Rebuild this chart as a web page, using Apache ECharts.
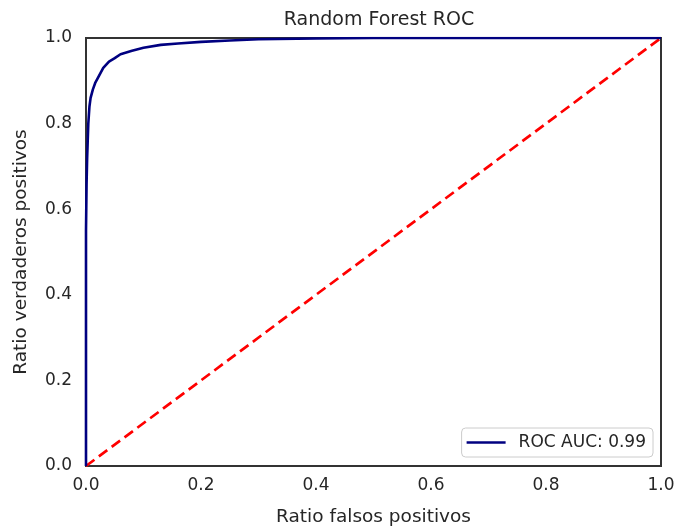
<!DOCTYPE html>
<html><head><meta charset="utf-8">
<script src="https://cdn.jsdelivr.net/npm/echarts@6/dist/echarts.min.js"></script>
<style>html,body{margin:0;padding:0;background:#fff}#c{width:691px;height:529px}</style>
</head><body><div id="c"></div>
<script>
const fpr = [0, 0, 0.001, 0.002, 0.004, 0.006, 0.008, 0.012, 0.016, 0.02, 0.03, 0.04, 0.05, 0.06, 0.08, 0.1, 0.13, 0.16, 0.2, 0.25, 0.3, 0.4, 0.5, 1.0];
const tpr = [0, 0.55, 0.66, 0.72, 0.8, 0.84, 0.86, 0.88, 0.895, 0.905, 0.93, 0.945, 0.953, 0.962, 0.97, 0.977, 0.984, 0.987, 0.991, 0.994, 0.997, 0.999, 1.0, 1.0];
const chanceX = [0, 1];
const chanceY = [0, 1];
const titleText = 'Random Forest ROC';
const xName = 'Ratio falsos positivos';
const yName = 'Ratio verdaderos positivos';
const legendName = 'ROC AUC: 0.99';

const font = 'DejaVu Sans';
const txt = '#262626';
const chart = echarts.init(document.getElementById('c'), null, {renderer: 'canvas'});
const axisCommon = {
  type: 'value', min: 0, max: 1, interval: 0.2,
  axisLine: {show: false}, axisTick: {show: false}, splitLine: {show: false},
  axisLabel: {color: txt, fontFamily: font, fontSize: 17, formatter: v => v.toFixed(1)},
  nameLocation: 'middle',
  nameTextStyle: {color: txt, fontFamily: font, fontSize: 18.5}
};
chart.setOption({
  backgroundColor: '#fff',
  animation: false,
  title: {text: titleText, left: 374, top: 6, textAlign: 'center',
    textStyle: {color: txt, fontFamily: font, fontSize: 19, fontWeight: 'normal'}},
  grid: {left: 86, right: 30, top: 38, bottom: 63, containLabel: false, outerBoundsMode: 'none',
    show: true, borderColor: '#333', borderWidth: 2, backgroundColor: '#fff'},
  xAxis: Object.assign({}, axisCommon, {name: xName, nameGap: 42,
    axisLabel: Object.assign({}, axisCommon.axisLabel, {margin: 11})}),
  yAxis: Object.assign({}, axisCommon, {name: yName, nameGap: 55,
    axisLabel: Object.assign({}, axisCommon.axisLabel, {margin: 14})}),
  legend: {
    data: [legendName], right: 38, bottom: 72, orient: 'vertical',
    itemWidth: 39, itemHeight: 10, itemGap: 0,
    padding: [6, 7, 6, 5],
    borderColor: '#ccc', borderWidth: 1, borderRadius: 4, backgroundColor: '#fff',
    textStyle: {color: txt, fontFamily: font, fontSize: 17, padding: [0, 0, 0, 8]},
    icon: 'path://M0,3.7L40,3.7L40,6.3L0,6.3Z'
  },
  series: [
    {name: legendName, type: 'line', showSymbol: false, symbol: 'none',
      data: fpr.map((x, i) => [x, tpr[i]]),
      lineStyle: {color: '#000080', width: 2.6}, itemStyle: {color: '#000080'}, z: 3},
    {name: 'chance', type: 'line', showSymbol: false, symbol: 'none',
      data: chanceX.map((x, i) => [x, chanceY[i]]),
      lineStyle: {color: '#ff0000', width: 2.7, type: [10.5, 5.5]}, z: 2}
  ]
});
</script></body></html>
